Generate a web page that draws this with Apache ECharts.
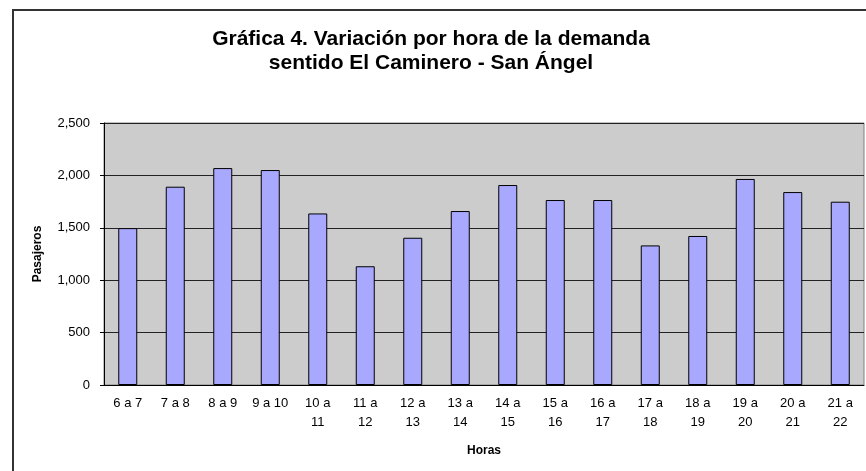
<!DOCTYPE html>
<html>
<head>
<meta charset="utf-8">
<script src="https://cdn.jsdelivr.net/npm/echarts@6/dist/echarts.min.js"></script>
<style>
  html, body { margin: 0; padding: 0; background: #fff; }
  #frame { position: absolute; left: 12px; top: 9px; width: 870px; height: 480px; border: 2px solid #333; box-sizing: border-box; }
  #chart { position: absolute; left: 0; top: 0; width: 866px; height: 471px; }
</style>
</head>
<body>
<div id="frame"></div>
<div id="chart"></div>
<script>
// horas del día
var horas = ['6 a 7', '7 a 8', '8 a 9', '9 a 10', '10 a 11', '11 a 12', '12 a 13', '13 a 14',
             '14 a 15', '15 a 16', '16 a 17', '17 a 18', '18 a 19', '19 a 20', '20 a 21', '21 a 22'];
// pasajeros por hora
var pasajeros = [1497, 1892, 2070, 2051, 1637, 1133, 1405, 1660,
                 1908, 1765, 1765, 1332, 1422, 1966, 1841, 1749];

var myChart = echarts.init(document.getElementById('chart'));
myChart.setOption({
    animation: false,
    title: {
        text: 'Gráfica 4. Variación por hora de la demanda\nsentido El Caminero - San Ángel',
        left: 426,
        top: 22,
        textAlign: 'center',
        textStyle: {
            fontFamily: 'Liberation Sans',
            fontWeight: 'bold',
            fontSize: 21,
            lineHeight: 24,
            color: '#000'
        }
    },
    grid: {
        left: 104,
        right: 2,
        top: 123,
        bottom: 86,
        show: true,
        backgroundColor: '#cccccc',
        borderColor: '#808080',
        borderWidth: 1
    },
    xAxis: {
        type: 'category',
        data: horas,
        name: 'Horas',
        nameLocation: 'middle',
        nameGap: 60,
        nameTextStyle: { fontFamily: 'Liberation Sans', fontWeight: 'bold', fontSize: 12, color: '#000' },
        axisLine: { lineStyle: { color: '#000', width: 1 } },
        axisTick: { alignWithLabel: false, length: 5, lineStyle: { color: '#000' } },
        axisLabel: {
            interval: 0,
            margin: 9,
            fontFamily: 'Liberation Sans',
            fontSize: 13,
            lineHeight: 19,
            color: '#000',
            formatter: function (s) { return s.length > 6 ? s.replace(' a ', ' a\n') : s; }
        }
    },
    yAxis: {
        type: 'value',
        min: 0,
        max: 2500,
        interval: 500,
        name: 'Pasajeros',
        nameLocation: 'middle',
        nameGap: 60,
        nameTextStyle: { fontFamily: 'Liberation Sans', fontWeight: 'bold', fontSize: 12, color: '#000' },
        axisLine: { show: true, lineStyle: { color: '#000', width: 1 } },
        axisTick: { show: true, length: 4, lineStyle: { color: '#000' } },
        axisLabel: {
            margin: 14,
            fontFamily: 'Liberation Sans',
            fontSize: 13,
            color: '#000',
            formatter: function (v) { return v.toLocaleString('en-US'); }
        },
        splitLine: { lineStyle: { color: '#222', width: 1 } }
    },
    series: [{
        type: 'bar',
        data: pasajeros,
        barWidth: '40%',
        itemStyle: { color: '#a8a8ff', borderColor: '#000', borderWidth: 1 }
    }]
});
</script>
</body>
</html>
